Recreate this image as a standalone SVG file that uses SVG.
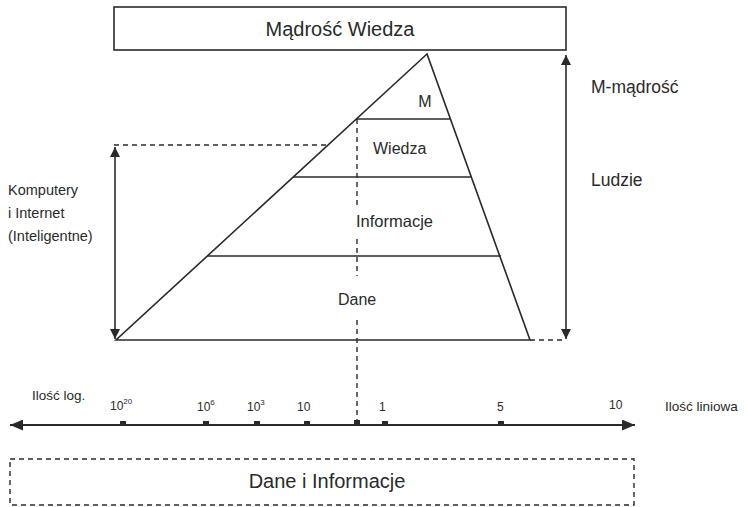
<svg xmlns="http://www.w3.org/2000/svg" width="748" height="507" viewBox="0 0 748 507">
<defs>
<style>
.t{font-family:"Liberation Sans",Arial,sans-serif;fill:#2a2a2a}
.ln{stroke:#2a2a2a;stroke-width:1.6;fill:none}
.ds{stroke:#2a2a2a;stroke-width:1.4;fill:none;stroke-dasharray:5,4}
.ax{stroke:#2a2a2a;stroke-width:2;fill:none}
.tick{fill:#2a2a2a}
</style>
<marker id="ah" viewBox="0 0 10 10" refX="10" refY="5" markerWidth="10" markerHeight="10" markerUnits="userSpaceOnUse" orient="auto-start-reverse">
<path d="M0,0 L10,5 L0,10 z" fill="#2a2a2a"/>
</marker>
<marker id="ahx" viewBox="0 0 12 10" refX="12" refY="5" markerWidth="13" markerHeight="11" markerUnits="userSpaceOnUse" orient="auto-start-reverse">
<path d="M0,0 L12,5 L0,10 z" fill="#2a2a2a"/>
</marker>
</defs>
<rect width="748" height="507" fill="#ffffff"/>

<g id="top-box">
<rect x="114" y="7" width="452" height="43" class="ln"/>
<text class="t" x="340" y="36" font-size="20" text-anchor="middle">Mądrość Wiedza</text>
</g>

<g id="pyramid">
<path d="M427,54 L116,340 L530,340 Z" class="ln"/>
<line x1="356" y1="119" x2="450" y2="119" class="ln"/>
<line x1="293" y1="177" x2="471" y2="177" class="ln"/>
<line x1="207" y1="256" x2="501" y2="256" class="ln"/>
</g>

<g id="level-m"><text class="t" x="425" y="107" font-size="16" text-anchor="middle">M</text></g>
<g id="level-wiedza"><text class="t" x="373" y="154" font-size="16">Wiedza</text></g>
<g id="level-informacje"><text class="t" x="356" y="227" font-size="16.5">Informacje</text></g>
<g id="level-dane"><text class="t" x="338" y="305" font-size="16">Dane</text></g>

<g id="label-left">
<text class="t" x="8" y="195" font-size="14.5">Komputery</text>
<text class="t" x="8" y="218" font-size="14.5">i Internet</text>
<text class="t" x="8" y="241" font-size="14.5">(Inteligentne)</text>
</g>

<g id="label-right">
<text class="t" x="591" y="93" font-size="17.5">M-mądrość</text>
<text class="t" x="591" y="186" font-size="17.5">Ludzie</text>
</g>

<g id="axis-labels">
<text class="t" x="32" y="400" font-size="13.5">Ilość log.</text>
<text class="t" x="110" y="410" font-size="12">10<tspan dy="-6" font-size="8">20</tspan></text>
<text class="t" x="197" y="411" font-size="12">10<tspan dy="-6" font-size="8">6</tspan></text>
<text class="t" x="247" y="411" font-size="12">10<tspan dy="-6" font-size="8">3</tspan></text>
<text class="t" x="297" y="411" font-size="12">10</text>
<text class="t" x="379" y="411" font-size="12">1</text>
<text class="t" x="497" y="411" font-size="12">5</text>
<text class="t" x="609" y="409" font-size="12">10</text>
<text class="t" x="665" y="411" font-size="13.5">Ilość liniowa</text>
</g>

<g id="bottom-box">
<rect x="10" y="459" width="624" height="46" class="ds"/>
<text class="t" x="327" y="488" font-size="20" text-anchor="middle">Dane i Informacje</text>
</g>

<g id="connectors">
<line x1="114" y1="145" x2="328" y2="145" class="ds"/>
<line x1="357" y1="119" x2="357" y2="207" class="ds"/>
<line x1="357" y1="239" x2="357" y2="276" class="ds"/>
<line x1="357" y1="320" x2="357" y2="423" class="ds"/>
<line x1="530" y1="340" x2="566" y2="340" class="ds"/>
<line x1="115" y1="147" x2="115" y2="339" class="ln" marker-start="url(#ah)" marker-end="url(#ah)"/>
<line x1="566" y1="55" x2="566" y2="339" class="ln" marker-start="url(#ah)" marker-end="url(#ah)"/>
<line x1="10" y1="425" x2="635" y2="425" class="ax" marker-start="url(#ahx)" marker-end="url(#ahx)"/>
<rect class="tick" x="120" y="421" width="6" height="4"/>
<rect class="tick" x="203" y="421" width="6" height="4"/>
<rect class="tick" x="254" y="421" width="6" height="4"/>
<rect class="tick" x="304" y="421" width="6" height="4"/>
<rect class="tick" x="354" y="420" width="6" height="5"/>
<rect class="tick" x="382" y="421" width="6" height="4"/>
<rect class="tick" x="498" y="421" width="6" height="4"/>
</g>
</svg>
